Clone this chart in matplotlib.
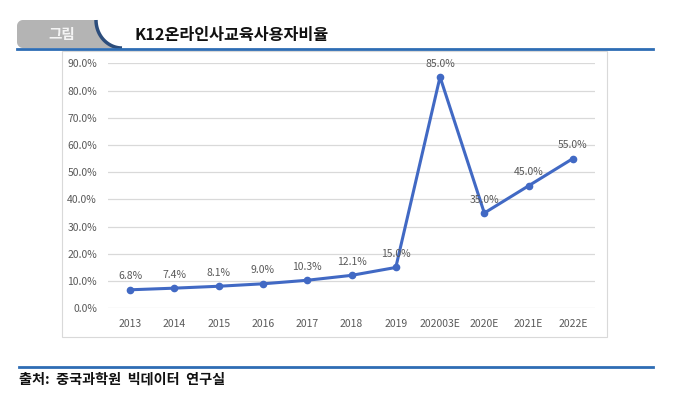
import numpy as np
import matplotlib.pyplot as plt
from matplotlib.patches import Rectangle, Polygon
from matplotlib.lines import Line2D

plt.rcParams['font.family'] = ['Noto Sans CJK KR', 'DejaVu Sans']

years = ["2013", "2014", "2015", "2016", "2017", "2018", "2019",
         "202003E", "2020E", "2021E", "2022E"]
share = [6.8, 7.4, 8.1, 9.0, 10.3, 12.1, 15.0, 85.0, 35.0, 45.0, 55.0]
y_ticks = [0, 10, 20, 30, 40, 50, 60, 70, 80, 90]

title = "K12온라인사교육사용자비율"
source = "출처:  중국과학원  빅데이터  연구실"

W, H = 673, 398
fig = plt.figure(figsize=(W / 100, H / 100), dpi=100)


def fx(px):
    return px / W


def fy(py):
    return 1 - py / H


# header tab: grey shape with rounded left side, cut by a curved dark stroke
t = np.linspace(0, np.pi / 2, 30)
arc = [(122 - 26 * np.cos(a), 20 + 28 * np.sin(a)) for a in t]
r = 6
tab_pts = arc \
    + [(17 + r - r * np.sin(a), 48 - r + r * np.cos(a)) for a in t] \
    + [(17 + r - r * np.cos(a), 20 + r - r * np.sin(a)) for a in t]
fig.patches.append(Polygon([(fx(px), fy(py)) for px, py in tab_pts],
                           closed=True, transform=fig.transFigure,
                           facecolor="#b4b4b4", edgecolor="none"))
fig.lines.append(Line2D([fx(p[0]) for p in arc], [fy(p[1]) for p in arc],
                        transform=fig.transFigure, color="#2c4d7c", lw=2.5,
                        solid_capstyle="butt"))
fig.text(fx(62), fy(34), "그림", color="#f4f4f4", fontsize=10.5,
         ha="center", va="center", fontweight="bold")
fig.text(fx(135), fy(35), title, color="#111111", fontsize=11.7,
         ha="left", va="center", fontweight="bold")
fig.lines.append(Line2D([fx(17), fx(653)], [fy(48.5), fy(48.5)],
                        transform=fig.transFigure, color="#2e6db4", lw=2))

# chart frame
fig.patches.append(Rectangle((fx(62), fy(337)), fx(545), fy(51) - fy(337),
                             transform=fig.transFigure, facecolor="none",
                             edgecolor="#d9d9d9", lw=0.8))

ax = fig.add_axes([fx(108), fy(308.3), fx(487), fy(63.3) - fy(308.3)])
x = list(range(len(years)))
ax.plot(x, share, color="#4169c4", lw=2.2, marker="o", markersize=4.5,
        zorder=3, clip_on=False)
for xi, v in zip(x, share):
    ax.annotate(f"{v:.1f}%", (xi, v), xytext=(0, 6),
                textcoords="offset points", ha="center", va="bottom",
                fontsize=7.5, color="#595959")

ax.set_xlim(-0.5, len(years) - 0.5)
ax.set_ylim(0, 90)
ax.set_yticks(y_ticks)
ax.set_yticklabels([f"{v:.1f}%" for v in y_ticks])
ax.set_xticks(x)
ax.set_xticklabels(years)
ax.tick_params(length=0, labelsize=7.5, labelcolor="#595959", pad=8)
ax.grid(axis="y", color="#d9d9d9", lw=0.9)
ax.set_axisbelow(True)
for s in ax.spines.values():
    s.set_visible(False)

# footer
fig.lines.append(Line2D([fx(19), fx(653)], [fy(367), fy(367)],
                        transform=fig.transFigure, color="#2e6db4", lw=2))
fig.text(fx(19), fy(380), source, color="#111111", fontsize=10.2,
         ha="left", va="center", fontweight="bold")

fig.savefig("out.png", dpi=100)
